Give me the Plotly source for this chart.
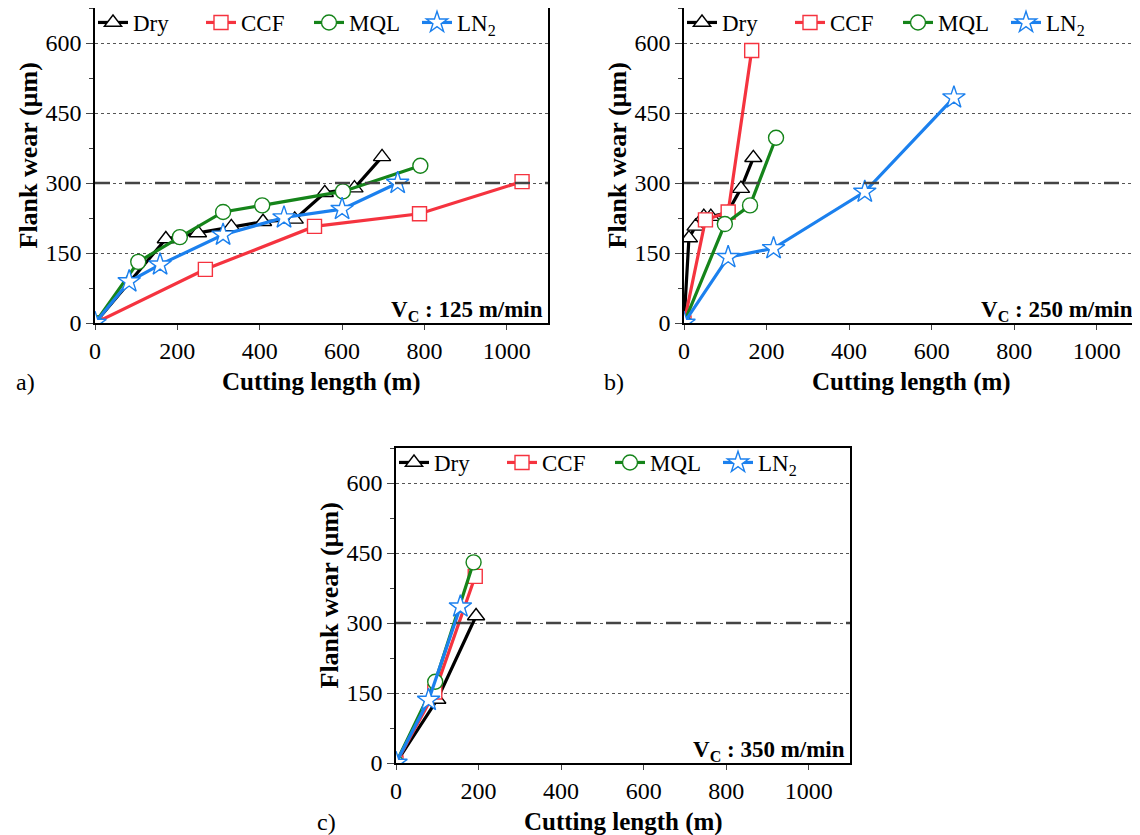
import plotly.graph_objects as go

W, H = 1140, 835
OFF = 8  # page body margin of the html page
FONT = "Liberation Serif"

series_names = ["Dry", "CCF", "MQL", "LN<sub>2</sub>"]
colors = ["#000000", "#F5333F", "#15841A", "#1B80EE"]
symbols = ["triangle-up", "square", "circle", "star"]
msizes = [15, 14, 15, 17]

# Panel a: Vc = 125 m/min
a_dry_x = [0, 172, 250, 331, 408, 485, 558, 630, 697]
a_dry_y = [0, 180, 193, 206, 217, 222, 279, 289, 356]
a_ccf_x = [0, 268, 533, 788, 1037]
a_ccf_y = [0, 115, 207, 234, 303]
a_mql_x = [0, 105, 206, 311, 406, 602, 790]
a_mql_y = [0, 131, 184, 238, 252, 282, 337]
a_ln2_x = [0, 83, 158, 311, 459, 600, 735]
a_ln2_y = [0, 89, 125, 189, 226, 244, 300]

# Panel b: Vc = 250 m/min
b_dry_x = [0, 12, 28, 48, 65, 105, 138, 168]
b_dry_y = [0, 182, 207, 228, 228, 236, 288, 354]
b_ccf_x = [0, 52, 107, 164]
b_ccf_y = [0, 221, 238, 584]
b_mql_x = [0, 99, 160, 223]
b_mql_y = [0, 212, 252, 397]
b_ln2_x = [0, 107, 217, 438, 654]
b_ln2_y = [0, 141, 160, 281, 483]

# Panel c: Vc = 350 m/min
c_dry_x = [0, 100, 194]
c_dry_y = [0, 136, 315]
c_ccf_x = [0, 94, 192]
c_ccf_y = [0, 152, 400]
c_mql_x = [0, 95, 188]
c_mql_y = [0, 174, 430]
c_ln2_x = [0, 79, 156]
c_ln2_y = [0, 135, 335]

THRESHOLD = 300
speeds = ["125", "250", "350"]
panel_labels = ["a)", "b)", "c)"]
y_ticks = [0, 150, 300, 450, 600]
x_ticks = [0, 200, 400, 600, 800, 1000]
X_MAX = 1100
Y_MAX = 675

panels = [
    [(a_dry_x, a_dry_y), (a_ccf_x, a_ccf_y), (a_mql_x, a_mql_y), (a_ln2_x, a_ln2_y)],
    [(b_dry_x, b_dry_y), (b_ccf_x, b_ccf_y), (b_mql_x, b_mql_y), (b_ln2_x, b_ln2_y)],
    [(c_dry_x, c_dry_y), (c_ccf_x, c_ccf_y), (c_mql_x, c_mql_y), (c_ln2_x, c_ln2_y)],
]

# plot areas in screen pixels (left, right, top, bottom)
boxes = [(95, 548, 8, 323), (684, 1138, 8, 323), (396, 850, 448, 763)]


def px(x):
    return (x - OFF) / W


def py(y):
    return (H - (y - OFF)) / H


def clamp(v):
    return min(max(v, 0), 1)


fig = go.Figure()
legend_ids = ["legend", "legend2", "legend3"]

for p, data in enumerate(panels):
    ax = "" if p == 0 else str(p + 1)
    for s, (xs, ys) in enumerate(data):
        fig.add_trace(go.Scatter(
            x=xs, y=ys, mode="lines+markers", name=series_names[s],
            line=dict(color=colors[s], width=3.2),
            marker=dict(symbol=symbols[s], size=msizes[s], color="white",
                        line=dict(color=colors[s], width=1.4)),
            xaxis="x" + ax, yaxis="y" + ax, legend=legend_ids[p],
        ))

layout = dict(width=W, height=H, margin=dict(l=0, r=0, t=0, b=0, autoexpand=False),
              paper_bgcolor="white", plot_bgcolor="white",
              font=dict(family=FONT, color="black", size=23), showlegend=True)

annotations = []
shapes = []
for p, (l, r, t, b) in enumerate(boxes):
    ax = "" if p == 0 else str(p + 1)
    xd = [clamp(px(l)), clamp(px(r))]
    yd = [clamp(py(b)), clamp(py(t))]
    layout["xaxis" + ax] = dict(
        domain=xd, range=[0, X_MAX], tickvals=x_ticks, ticks="outside", ticklen=5,
        tickwidth=1.3, showline=True, linewidth=1.5, linecolor="black", mirror=True,
        showgrid=False, zeroline=False, tickfont=dict(size=24, family=FONT),
        anchor="y" + ax, automargin=False)
    layout["yaxis" + ax] = dict(
        domain=yd, range=[0, Y_MAX], tickvals=y_ticks, ticks="outside", ticklen=7,
        tickwidth=1.3, showline=True, linewidth=1.5, linecolor="black", mirror=True,
        showgrid=True, gridcolor="#555555", gridwidth=1, griddash="dot",
        zeroline=False, tickfont=dict(size=24, family=FONT), anchor="x" + ax,
        automargin=False,
        minor=dict(ticks="outside", dtick=75, tick0=0, ticklen=4, tickwidth=1.2,
                   showgrid=False))
    lid = legend_ids[p]
    layout[lid] = dict(x=px(l - 2), y=py(t - 7), xanchor="left", yanchor="top",
                       orientation="h", bgcolor="rgba(0,0,0,0)", font=dict(size=23, family=FONT),
                       itemwidth=30, tracegroupgap=0, entrywidth=63)
    shapes.append(dict(type="line", xref="x" + ax + " domain", yref="y" + ax,
                       x0=0, x1=1, y0=THRESHOLD, y1=THRESHOLD,
                       line=dict(color="#444444", width=2.6, dash="longdash")))
    annotations.append(dict(xref="paper", yref="paper",
                            x=px(r - 3), y=py(b + 4), xanchor="right", yanchor="bottom",
                            text="<b>V<sub>C</sub> : " + speeds[p] + " m/min</b>",
                            showarrow=False, font=dict(size=23, family=FONT)))
    # y-axis title
    annotations.append(dict(xref="paper", yref="paper", x=px(l - 67),
                            y=py((t + b) / 2 - 10), xanchor="center", yanchor="middle",
                            textangle=-90, text="<b>Flank wear (µm)</b>", showarrow=False,
                            font=dict(size=26, family=FONT)))
    # x-axis title
    annotations.append(dict(xref="paper", yref="paper", x=px((l + r) / 2),
                            y=py(b + 59), xanchor="center", yanchor="middle",
                            text="<b>Cutting length (m)</b>", showarrow=False,
                            font=dict(size=25, family=FONT)))
    # panel label
    annotations.append(dict(xref="paper", yref="paper", x=px(l - 70),
                            y=py(b + 59), xanchor="center", yanchor="middle",
                            text=panel_labels[p], showarrow=False,
                            font=dict(size=24, family=FONT)))

layout["annotations"] = annotations
layout["shapes"] = shapes
fig.update_layout(**layout)
fig.write_html("out.html")
